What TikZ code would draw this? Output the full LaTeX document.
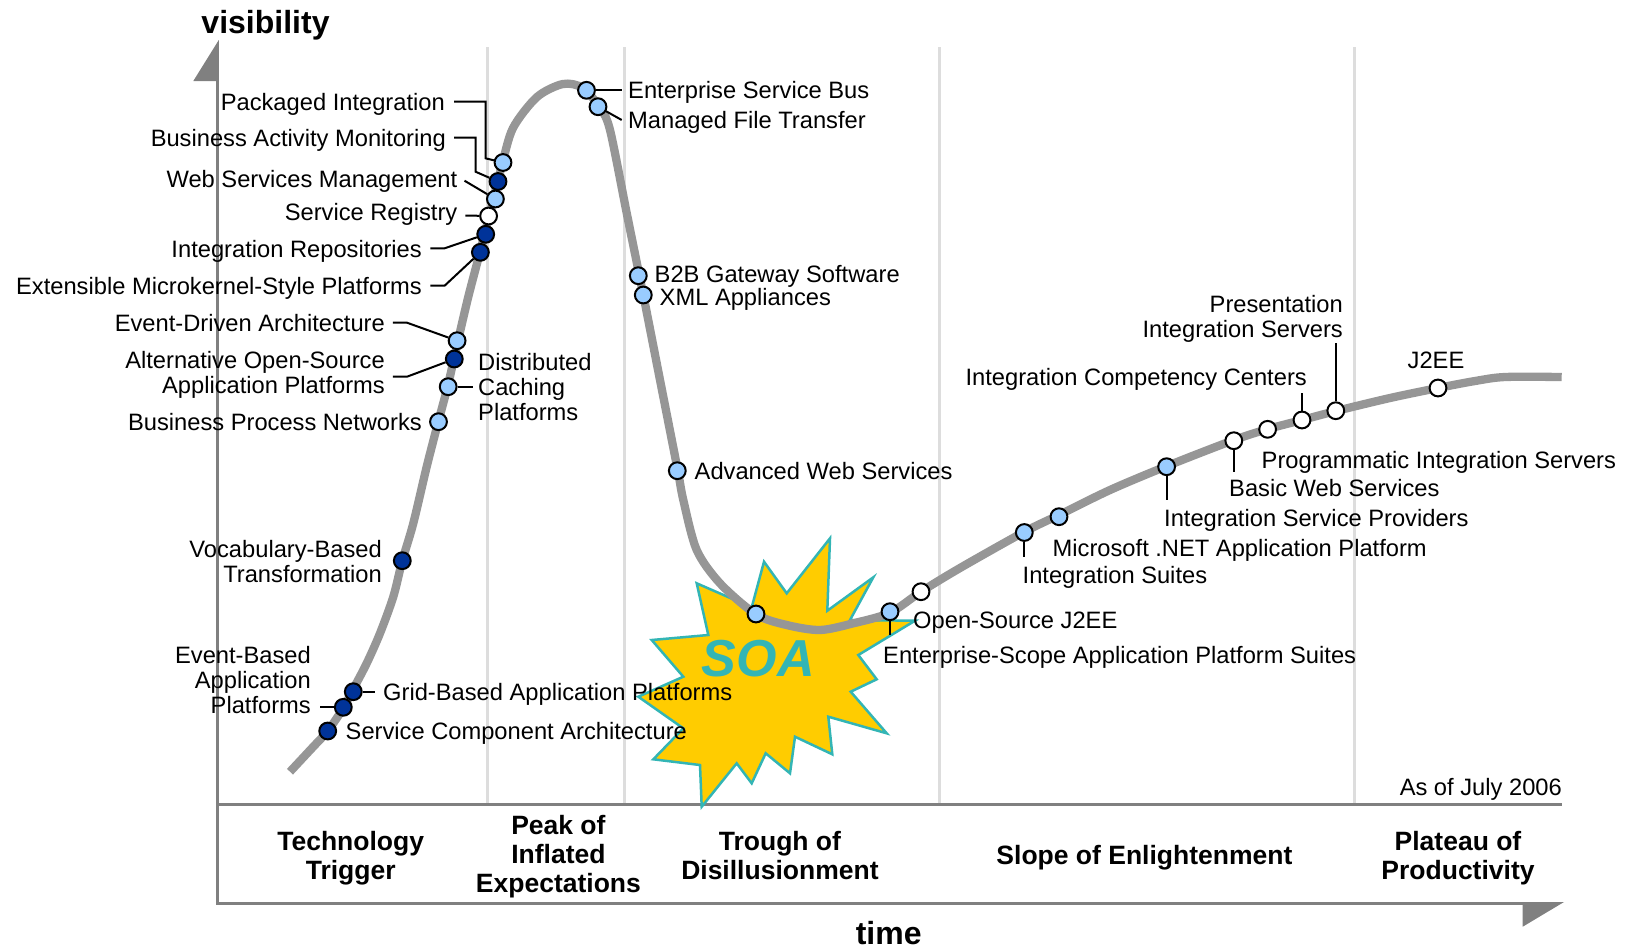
\documentclass[tikz,border=0pt]{standalone}
\usepackage{fontspec}
\setmainfont{Liberation Sans}
\definecolor{lblue}{RGB}{153,204,255}
\definecolor{dblue}{RGB}{0,51,153}
\definecolor{gold}{RGB}{255,204,0}
\definecolor{soateal}{RGB}{51,181,181}
\definecolor{curvegray}{RGB}{150,150,150}
\definecolor{sepgray}{RGB}{221,221,221}
\definecolor{axgray}{RGB}{128,128,128}
\begin{document}
\begin{tikzpicture}[x=1pt,y=-1pt,
  lbl/.style={font=\fontsize{23.7}{25}\selectfont, inner sep=0pt, text height=17pt, text depth=0pt},
  lblm/.style={font=\fontsize{23.7}{25}\selectfont, inner sep=0pt},
  phase/.style={font=\fontsize{26.5}{29}\selectfont\bfseries, inner sep=0pt, align=center, anchor=north},
  axlbl/.style={font=\fontsize{32}{34}\selectfont\bfseries, inner sep=0pt, anchor=north},
  dotbase/.style={circle, draw=black, line width=2pt, minimum size=16.8pt, inner sep=0pt},
  dotL/.style={dotbase, fill=lblue},
  dotD/.style={dotbase, fill=dblue},
  dotW/.style={dotbase, fill=white},
  leader/.style={draw=black, line width=2pt},
  sepline/.style={draw=sepgray, line width=3pt},
  axisline/.style={draw=axgray, line width=2.6pt},
  hype/.style={draw=curvegray, line width=8.3pt, line join=round},
]
\useasboundingbox (0,0) rectangle (1627,948);

% phase separators
\foreach \x in {487,624.5,939,1354} \draw[sepline] (\x,47) -- (\x,804);

% axes
\draw[axisline] (217.5,81) -- (217.5,903.3) -- (1523,903.3);
\fill[axgray] (218.8,40) -- (193.3,81) -- (218.8,81) -- cycle;
\fill[axgray] (1522.7,902) -- (1564,902) -- (1522.7,926.7) -- cycle;
\draw[axisline] (217.5,804.3) -- (1561.5,804.3);

% SOA starburst
\filldraw[fill=gold, draw=soateal, line width=2.5pt, line join=miter]
  (830,538.3) -- (827.3,610.7) -- (873.3,577.3) -- (850,620) -- (915,620.7) --
  (858.3,655) -- (876.7,679.3) -- (850.7,691.7) -- (886.7,733.3) -- (828.3,716.7) --
  (832.3,754.3) -- (795,736.7) -- (790,773.3) -- (765.7,753.3) -- (751.7,783.3) --
  (736.7,763.3) -- (701.7,806.7) -- (700,765) -- (653.3,759.3) -- (683.3,728.3) --
  (638.3,696.7) -- (683.3,676.7) -- (651.7,640) -- (708.3,635) -- (696.7,583.3) --
  (751.7,607.3) -- (764,561.7) -- (786.7,593.3) -- cycle;
\node[font=\fontsize{52}{52}\selectfont\bfseries\itshape, text=soateal, inner sep=0pt] (soatxt) at (758.3,658.3) {SOA};

% hype curve
\draw[hype] plot[smooth, tension=0.5] coordinates {
  (290,771.7) (313.3,746.7) (327.7,731) (343.3,708) (353.3,689) (366.7,663.3)
  (380,633.3) (393.3,596.7) (402.3,560.7) (413.3,523.3) (426.7,466.7) (438.3,421.7)
  (448,385) (457,345) (468,298) (480,252) (492,205) (502,165) (513,128) (537,97)
  (563,84) (583,88) (600,108) (610,130) (626.7,213) (643.3,295) (660,380)
  (677.3,468) (683.3,500) (696.7,550) (720,583.3) (756,614.3) (786.7,625) (820,630)
  (853.3,623.3) (890,612.7) (921,591.7) (960,568) (1024,532) (1059,515) (1110,490)
  (1167,466) (1234,440) (1268,429) (1302,420) (1336,411) (1390,398) (1438,388)
  (1475,381) (1505,377) (1561.7,377)};

% dots
\node[dotL] (pi)   at (503,162.5) {};
\node[dotD] (bam)  at (498,181.5) {};
\node[dotL] (wsm)  at (495.4,199) {};
\node[dotW] (sr)   at (488.6,216) {};
\node[dotD] (ir)   at (485.7,234.3) {};
\node[dotD] (ems)  at (480.4,252.3) {};
\node[dotL] (eda)  at (457.1,340.7) {};
\node[dotD] (aos)  at (454.3,359) {};
\node[dotL] (dc)   at (448.2,386.7) {};
\node[dotL] (bpn)  at (438.5,421.7) {};
\node[dotD] (voc)  at (402.3,560.7) {};
\node[dotD] (gb)   at (353.3,691.7) {};
\node[dotD] (eb)   at (343.3,707.3) {};
\node[dotD] (sca)  at (327.7,731) {};
\node[dotL] (esb)  at (586.5,90.3) {};
\node[dotL] (mft)  at (598,106.7) {};
\node[dotL] (b2b)  at (638.3,275.7) {};
\node[dotL] (xml)  at (643.3,295) {};
\node[dotL] (aws)  at (677.3,470.7) {};
\node[dotL] (trough) at (756,614) {};
\node[dotL] (es)   at (890,611.7) {};
\node[dotW] (osj)  at (921,591.7) {};
\node[dotL] (is)   at (1024.3,532.5) {};
\node[dotL] (ms)   at (1059,516.7) {};
\node[dotL] (isp)  at (1166.6,466.7) {};
\node[dotW] (bws)  at (1233.8,440.7) {};
\node[dotW] (pis)  at (1267.6,429.3) {};
\node[dotW] (icc)  at (1302,420) {};
\node[dotW] (pris) at (1335.8,410.7) {};
\node[dotW] (jee)  at (1438,388) {};

% leader end coordinates
\coordinate (piA) at (454,101.7);
\coordinate (bamA) at (454,137.7);
\coordinate (wsmA) at (464.5,180.7);
\coordinate (srA) at (465.4,215.5);
\coordinate (irA) at (430.4,248.3);
\coordinate (emsA) at (430.4,285.7);
\coordinate (edaA) at (392.9,322.7);
\coordinate (aosA) at (392.9,376.7);
\coordinate (dcA) at (473,386.7);
\coordinate (ebA) at (320,707.3);
\coordinate (gbA) at (375,691.7);
\coordinate (esbA) at (621.7,90.3);
\coordinate (mftA) at (621.7,120);
\coordinate (esA) at (890,635);
\coordinate (isA) at (1024.3,556.7);
\coordinate (ispA) at (1166.6,500);
\coordinate (bwsA) at (1233.8,471.7);
\coordinate (iccA) at (1302,393.3);
\coordinate (prisA) at (1335.8,343.3);

% leaders
\draw[leader] (piA) -- (485.5,101.7) -- (485.5,158.3) -- (pi);
\draw[leader] (bamA) -- (475.5,137.7) -- (475.5,171.7) -- (bam);
\draw[leader] (wsmA) -- (wsm);
\draw[leader] (srA) -- (sr);
\draw[leader] (irA) -- (444.6,248.3) -- (ir);
\draw[leader] (emsA) -- (444.6,285.7) -- (ems);
\draw[leader] (edaA) -- (407,322.7) -- (eda);
\draw[leader] (aosA) -- (407,376.7) -- (aos);
\draw[leader] (dc) -- (dcA);
\draw[leader] (ebA) -- (eb);
\draw[leader] (gb) -- (gbA);
\draw[leader] (esb) -- (esbA);
\draw[leader] (mft) -- (mftA);
\draw[leader] (es) -- (esA);
\draw[leader] (is) -- (isA);
\draw[leader] (isp) -- (ispA);
\draw[leader] (bws) -- (bwsA);
\draw[leader] (icc) -- (iccA);
\draw[leader] (pris) -- (prisA);

% labels (left group)
\node[lbl, anchor=east] (tpi) at (445,101.7) {Packaged Integration};
\node[lbl, anchor=east] (tbam) at (446,137.7) {Business Activity Monitoring};
\node[lbl, anchor=east] (twsm) at (457.5,179) {Web Services Management};
\node[lbl, anchor=east] (tsr) at (457.5,212.3) {Service Registry};
\node[lbl, anchor=east] (tir) at (422,249) {Integration Repositories};
\node[lbl, anchor=east] (tems) at (422,285.7) {Extensible Microkernel-Style Platforms};
\node[lbl, anchor=east] (teda) at (385,322.7) {Event-Driven Architecture};
\node[lblm, align=right, anchor=north east] (taos) at (385,351.5) {Alternative Open-Source\\Application Platforms};
\node[lblm, align=left, anchor=north west] (tdc) at (478,353.2) {Distributed\\Caching\\Platforms};
\node[lbl, anchor=east] (tbpn) at (422,421.7) {Business Process Networks};
\node[lblm, align=right, anchor=north east] (tvoc) at (382,539.8) {Vocabulary-Based\\Transformation};
\node[lblm, align=right, anchor=north east] (teb) at (311,646.5) {Event-Based\\Application\\Platforms};
\node[lbl, anchor=west] (tgb) at (383,691.7) {Grid-Based Application Platforms};
\node[lbl, anchor=west] (tsca) at (345.5,731) {Service Component Architecture};

% labels (peak and trough)
\node[lbl, anchor=west] (tesb) at (628,90) {Enterprise Service Bus};
\node[lbl, anchor=west] (tmft) at (628,120) {Managed File Transfer};
\node[lbl, anchor=west] (tb2b) at (654.5,274) {B2B Gateway Software};
\node[lbl, anchor=west] (txml) at (659.5,296.7) {XML Appliances};
\node[lbl, anchor=west] (taws) at (694.5,470.7) {Advanced Web Services};
\node[lbl, anchor=west] (tosj) at (913,620) {Open-Source J2EE};
\node[lbl, anchor=west] (tes) at (883,655) {Enterprise-Scope Application Platform Suites};

% labels (slope and plateau)
\node[lbl, anchor=west] (tis) at (1022.5,575) {Integration Suites};
\node[lbl, anchor=west] (tms) at (1052.5,547.5) {Microsoft .NET Application Platform};
\node[lbl, anchor=west] (tisp) at (1164,518.3) {Integration Service Providers};
\node[lbl, anchor=west] (tbws) at (1229,488.3) {Basic Web Services};
\node[lbl, anchor=west] (tpis) at (1261.5,460) {Programmatic Integration Servers};
\node[lbl, anchor=east] (ticc) at (1307,377.3) {Integration Competency Centers};
\node[lblm, align=right, anchor=north east] (tpris) at (1343,294.8) {Presentation\\Integration Servers};
\node[lbl, anchor=center] (tjee) at (1436,360) {J2EE};
\node[lbl, anchor=east] (tdate) at (1562,787) {As of July 2006};

% phase labels
\node[phase] (ph1) at (350.7,831.5) {Technology\\Trigger};
\node[phase] (ph2) at (558.4,815.5) {Peak of\\Inflated\\Expectations};
\node[phase] (ph3) at (779.9,831.5) {Trough of\\Disillusionment};
\node[phase] (ph4) at (1144.4,845.5) {Slope of Enlightenment};
\node[phase] (ph5) at (1458,831.5) {Plateau of\\Productivity};

% axis labels
\node[axlbl] (vis) at (265.5,10) {visibility};
\node[axlbl] (tim) at (888.7,921) {time};
\end{tikzpicture}
\end{document}
